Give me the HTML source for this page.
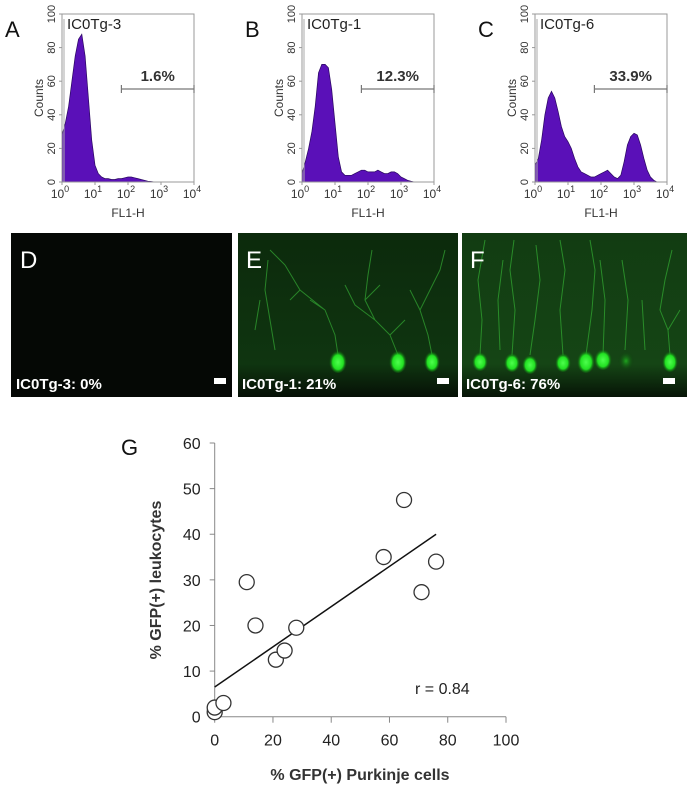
<!DOCTYPE html>
<html><head><meta charset="utf-8"><style>
body{margin:0;background:#fff;}
svg{display:block;font-family:"Liberation Sans",sans-serif;}
</style></head><body>
<svg id="fig" width="687" height="792" viewBox="0 0 687 792">
<defs>
<radialGradient id="cell" cx="50%" cy="55%" r="50%">
<stop offset="0" stop-color="#4dff4d"/><stop offset="0.6" stop-color="#22e022"/><stop offset="1" stop-color="#0a5a0a" stop-opacity="0"/>
</radialGradient>
<radialGradient id="dim" cx="50%" cy="50%" r="50%">
<stop offset="0" stop-color="#1fa81f"/><stop offset="1" stop-color="#0a3a0a" stop-opacity="0"/>
</radialGradient>
<linearGradient id="eg" x1="0" y1="0" x2="0" y2="1"><stop offset="0" stop-color="#0c2a0c"/><stop offset="0.8" stop-color="#0f3510"/><stop offset="1" stop-color="#061006"/></linearGradient>
<linearGradient id="fg" x1="0" y1="0" x2="0" y2="1"><stop offset="0" stop-color="#123c12"/><stop offset="0.8" stop-color="#154515"/><stop offset="1" stop-color="#071407"/></linearGradient>
</defs>
<g id="hists"></g>
<g>
<rect x="11" y="233" width="221" height="164" fill="#050805"/>
<text x="20" y="268" font-size="24" fill="#fff">D</text>
<text x="16" y="389" font-size="15" font-weight="bold" fill="#fff">IC0Tg-3:  0%</text>
<rect x="214" y="378" width="12" height="6" fill="#fff"/>
</g>
<g>
<rect x="238" y="233" width="220" height="164" fill="url(#eg)"/>
<g stroke="#2f9a2f" stroke-width="1" fill="none" opacity="0.8">
<path d="M338 355 L335 335 L325 310 L300 290 L285 265 M325 310 L310 300 M300 290 L290 300 M285 265 L270 250"/>
<path d="M398 355 L390 335 L375 320 L365 300 L368 275 L372 250 M375 320 L355 305 L345 285 M365 300 L380 285 M390 335 L405 320"/>
<path d="M432 355 L428 335 L420 310 L430 290 L440 270 L445 250 M420 310 L410 290"/>
<path d="M275 350 L270 320 L265 290 L268 260 M255 330 L260 300"/>
</g>
<ellipse cx="338" cy="361" rx="9" ry="12" fill="url(#cell)"/>
<ellipse cx="398" cy="361" rx="9" ry="12" fill="url(#cell)"/>
<ellipse cx="432" cy="361" rx="8" ry="11" fill="url(#cell)"/>
<text x="246" y="268" font-size="24" fill="#fff">E</text>
<text x="242" y="389" font-size="15" font-weight="bold" fill="#fff">IC0Tg-1:  21%</text>
<rect x="437" y="378" width="12" height="6" fill="#fff"/>
</g>
<g>
<rect x="462" y="233" width="225" height="164" fill="url(#fg)"/>
<g stroke="#2fa02f" stroke-width="1" fill="none" opacity="0.8">
<path d="M480 355 L482 320 L478 280 L485 240"/>
<path d="M512 355 L515 310 L510 270 L514 240"/>
<path d="M530 355 L535 320 L540 280 L536 245"/>
<path d="M563 355 L560 310 L565 270 L560 240"/>
<path d="M586 355 L592 310 L595 270 L590 240"/>
<path d="M603 355 L605 300 L600 260"/>
<path d="M670 355 L668 330 L660 310 L665 280 L672 250 M668 330 L680 310"/>
<path d="M500 350 L498 300 L503 260 M625 350 L628 300 L622 260 M645 350 L642 300"/>
</g>
<ellipse cx="480" cy="361" rx="8" ry="10" fill="url(#cell)"/>
<ellipse cx="512" cy="362" rx="8" ry="10" fill="url(#cell)"/>
<ellipse cx="530" cy="364" rx="8" ry="10" fill="url(#cell)"/>
<ellipse cx="563" cy="362" rx="8" ry="10" fill="url(#cell)"/>
<ellipse cx="586" cy="361" rx="9" ry="12" fill="url(#cell)"/>
<ellipse cx="603" cy="359" rx="9" ry="11" fill="url(#cell)"/>
<ellipse cx="626" cy="361" rx="8" ry="10" fill="url(#dim)"/>
<ellipse cx="670" cy="361" rx="8" ry="11" fill="url(#cell)"/>
<text x="470" y="268" font-size="24" fill="#fff">F</text>
<text x="466" y="389" font-size="15" font-weight="bold" fill="#fff">IC0Tg-6:  76%</text>
<rect x="663" y="378" width="12" height="6" fill="#fff"/>
</g>
<g id="scatter"></g>
</svg>
<script>
const histLogBins = [0,0.1,0.2,0.3,0.4,0.5,0.6,0.7,0.8,0.9,1.0,1.1,1.2,1.3,1.4,1.5,1.6,1.7,1.8,1.9,2.0,2.1,2.2,2.3,2.4,2.5,2.6,2.7,2.8,2.9,3.0,3.1,3.2,3.3,3.4,3.5,3.6,3.7,3.8,3.9,4.0];
const countsA = [28,35,45,60,75,85,88,75,50,25,10,5,3,2,2,1.5,1.5,2,2,2.5,3,3,2.5,2,1.5,1,0.5,0.3,0,0,0,0,0,0,0,0,0,0,0,0,0];
const countsB = [5,12,20,30,45,65,70,70,68,55,35,15,6,4,4,4,5,6,7,7,6,6,6,7,6,5,5,6,6,5,3,2,1,0.5,0,0,0,0,0,0,0];
const countsC = [10,14,25,40,50,54,50,42,33,27,24,20,14,9,6,5,4,3,3,4,5,6,7,5,3,2,4,12,22,27,29,28,22,14,7,3,1,0,0,0,0];
const histNames = ["IC0Tg-3","IC0Tg-1","IC0Tg-6"];
const histPercents = ["1.6%","12.3%","33.9%"];
const histLetters = ["A","B","C"];
const countTicks = [0,20,40,60,80,100];
const decadeTicks = [0,1,2,3,4];
const gateStartLog = 1.8;

const purkinje = [0,0,3,11,14,21,24,28,58,65,71,76];
const leukocytes = [1,2,3,29.5,20,12.5,14.5,19.5,35,47.5,27.3,34];
const fitX = [0,76];
const fitY = [6.5,40];
const xTicks = [0,20,40,60,80,100];
const yTicks = [0,10,20,30,40,50,60];

const NS="http://www.w3.org/2000/svg";
function mk(tag,attrs,parent){const e=document.createElementNS(NS,tag);for(const k in attrs)e.setAttribute(k,attrs[k]);parent.appendChild(e);return e;}

const hg=document.getElementById('hists');
const boxL=[62,302,535], boxW=132, hTop=14, hBot=182;
const allCounts=[countsA,countsB,countsC];
for(let p=0;p<3;p++){
  const L=boxL[p];
  const xs=v=>L+v/4*boxW;
  const ys=v=>hBot-v/100*(hBot-hTop);
  const g=mk('g',{},hg);
  
  
  let d='M'+xs(0)+' '+ys(0);
  histLogBins.forEach((b,i)=>{d+=' L'+xs(b).toFixed(1)+' '+ys(allCounts[p][i]).toFixed(1);});
  d+=' L'+xs(4)+' '+ys(0)+' Z';
  const area=mk('path',{d:d,fill:'#5a10b8',stroke:'#2a0860','stroke-width':0.7},g);
  
  
  mk('rect',{x:L,y:hTop,width:boxW,height:hBot-hTop,fill:'none',stroke:'#999','stroke-width':1},g);
  mk('line',{x1:L+2,y1:hTop+5,x2:L+2,y2:hBot,stroke:'#aaa','stroke-width':1},g);
  countTicks.forEach(t=>{
    mk('line',{x1:L-3,x2:L,y1:ys(t),y2:ys(t),stroke:'#999'},g);
    const tx=mk('text',{x:L-7,y:ys(t),'font-size':11,fill:'#333','text-anchor':'middle',transform:`rotate(-90 ${L-7} ${ys(t)})`},g);
    tx.textContent=t;
    
    
  });
  decadeTicks.forEach(t=>{
    mk('line',{x1:xs(t),x2:xs(t),y1:hBot,y2:hBot+3,stroke:'#999'},g);
    const tx=mk('text',{x:xs(t)-2,y:hBot+16,'font-size':12,fill:'#333','text-anchor':'middle'},g);
    tx.appendChild(document.createTextNode('10'));
    const sup=mk('tspan',{dy:-6,'font-size':9},tx);
    sup.textContent=t;
    
    
  });
  const xl=mk('text',{x:L+66,y:hBot+35,'font-size':12,fill:'#333','text-anchor':'middle'},g);
  xl.textContent='FL1-H';
  
  
  const yl=mk('text',{x:L-19,y:98,'font-size':12,fill:'#333','text-anchor':'middle',transform:`rotate(-90 ${L-19} 98)`},g);
  yl.textContent='Counts';
  
  
  const nm=mk('text',{x:L+5,y:hTop+15,'font-size':15,fill:'#222'},g);
  nm.textContent=histNames[p];
  
  
  const lt=mk('text',{x:L-57,y:hTop+23,'font-size':22,fill:'#111'},g);
  lt.textContent=histLetters[p];
  
  
  const gx1=xs(gateStartLog), gx2=xs(4);
  mk('line',{x1:gx1,x2:gx2,y1:89,y2:89,stroke:'#777','stroke-width':1.2},g);
  mk('line',{x1:gx1,x2:gx1,y1:85,y2:93,stroke:'#777','stroke-width':1.2},g);
  mk('line',{x1:gx2,x2:gx2,y1:85,y2:93,stroke:'#777','stroke-width':1.2},g);
  const pc=mk('text',{x:(gx1+gx2)/2,y:81,'font-size':15,'font-weight':'bold',fill:'#333','text-anchor':'middle'},g);
  pc.textContent=histPercents[p];
  
  
}

const sg=document.getElementById('scatter');
const X0=214.7,X1=506,Y0=716.7,Y1=443;
const sx=v=>X0+v/100*(X1-X0);
const sy=v=>Y0-v/60*(Y0-Y1);
const ax=mk('g',{},sg);


mk('line',{x1:X0,x2:X0,y1:Y1,y2:Y0,stroke:'#888','stroke-width':1},ax);
mk('line',{x1:X0,x2:X1,y1:Y0,y2:Y0,stroke:'#888','stroke-width':1},ax);
yTicks.forEach(t=>{
  mk('line',{x1:X0-5,x2:X0,y1:sy(t),y2:sy(t),stroke:'#888'},ax);
  const tx=mk('text',{x:X0-14,y:sy(t)+6,'font-size':16,fill:'#222','text-anchor':'end'},ax);
  tx.textContent=t;
  
  
});
xTicks.forEach(t=>{
  mk('line',{x1:sx(t),x2:sx(t),y1:Y0,y2:Y0+6,stroke:'#888'},ax);
  const tx=mk('text',{x:sx(t),y:Y0+29,'font-size':16,fill:'#222','text-anchor':'middle'},ax);
  tx.textContent=t;
  
  
});
const fl=mk('line',{x1:sx(fitX[0]),y1:sy(fitY[0]),x2:sx(fitX[1]),y2:sy(fitY[1]),stroke:'#111','stroke-width':1.5},sg);


purkinje.forEach((v,i)=>{
  const c=mk('circle',{cx:sx(v),cy:sy(leukocytes[i]),r:7.5,fill:'#fff',stroke:'#333','stroke-width':1.3},sg);
  
  
});
function txt(s,attrs,name){const t=mk('text',attrs,sg);t.textContent=s;}
txt('r = 0.84',{x:415,y:694,'font-size':16,fill:'#222'},'correlation-label');
txt('% GFP(+) Purkinje cells',{x:360,y:780,'font-size':16,'font-weight':'bold',fill:'#333','text-anchor':'middle'},'x-axis-title');
txt('% GFP(+) leukocytes',{x:161,y:580,'font-size':16,'font-weight':'bold',fill:'#333','text-anchor':'middle',transform:'rotate(-90 161 580)'},'y-axis-title');
txt('G',{x:121,y:455,'font-size':22,fill:'#111'},'panel-letter-g');
</script>
</body></html>
